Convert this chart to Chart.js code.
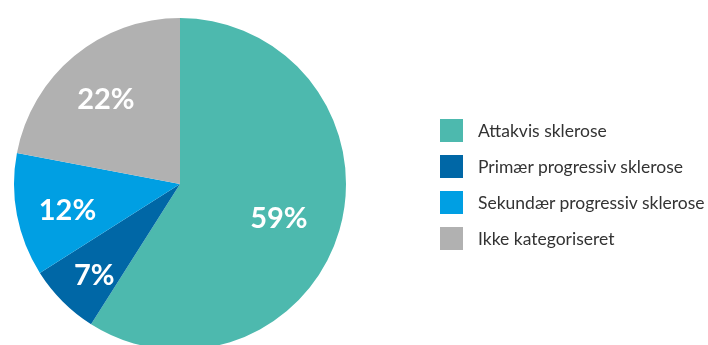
<!DOCTYPE html>
<html>
<head>
<meta charset="utf-8">
<script src="https://cdn.jsdelivr.net/npm/chart.js@4"></script>
<style>
  html, body { margin: 0; padding: 0; background: #fff; overflow: hidden; }
  #wrap { position: relative; width: 708px; height: 345px; overflow: hidden; }
  #chartBox { position: absolute; left: 0; top: 0; width: 708px; height: 352px; }
  #legend { position: absolute; left: 440px; top: 119px; font-family: Lato, sans-serif; font-size: 17.5px; color: #333; }
  .item { display: flex; align-items: center; height: 23px; margin-bottom: 13px; }
  .swatch { width: 23px; height: 23px; margin-right: 15px; flex: none; }
</style>
</head>
<body>
<div id="wrap">
  <div id="chartBox"><canvas id="pie"></canvas></div>
  <div id="legend"></div>
</div>
<script>
// --- DATA ---
const categories = ['Attakvis sklerose', 'Primær progressiv sklerose', 'Sekundær progressiv sklerose', 'Ikke kategoriseret'];
const shares = [59, 7, 12, 22];
const sliceColors = ['#4db9ae', '#0067a6', '#009fe3', '#b1b1b1'];

// label distance from centre, as share of radius
const labelRadius = [0.62, 0.73, 0.69, 0.70];

// --- percent labels inside slices ---
const sliceLabels = {
  id: 'sliceLabels',
  afterDatasetsDraw(chart) {
    const ctx = chart.ctx;
    const meta = chart.getDatasetMeta(0);
    ctx.save();
    ctx.fillStyle = '#fff';
    ctx.font = '700 29px Lato, sans-serif';
    ctx.textAlign = 'center';
    ctx.textBaseline = 'alphabetic';
    meta.data.forEach((arc, i) => {
      const mid = (arc.startAngle + arc.endAngle) / 2;
      const r = arc.outerRadius * labelRadius[i];
      ctx.fillText(shares[i] + '%', arc.x + Math.cos(mid) * r, arc.y + Math.sin(mid) * r + 15);
    });
    ctx.restore();
  }
};

new Chart(document.getElementById('pie'), {
  type: 'pie',
  data: {
    labels: categories,
    datasets: [{
      data: shares,
      backgroundColor: sliceColors,
      borderWidth: 0
    }]
  },
  options: {
    responsive: true,
    maintainAspectRatio: false,
    animation: false,
    layout: { padding: { left: 14, right: 362, top: 18, bottom: 2 } },
    plugins: {
      legend: { display: false },
      tooltip: { enabled: false }
    }
  },
  plugins: [sliceLabels]
});

// --- legend (built from the same arrays) ---
const legend = document.getElementById('legend');
categories.forEach((name, i) => {
  const row = document.createElement('div');
  row.className = 'item';
  row.innerHTML = `<div class="swatch" style="background:${sliceColors[i]}"></div><span>${name}</span>`;
  legend.appendChild(row);
});
</script>
</body>
</html>
